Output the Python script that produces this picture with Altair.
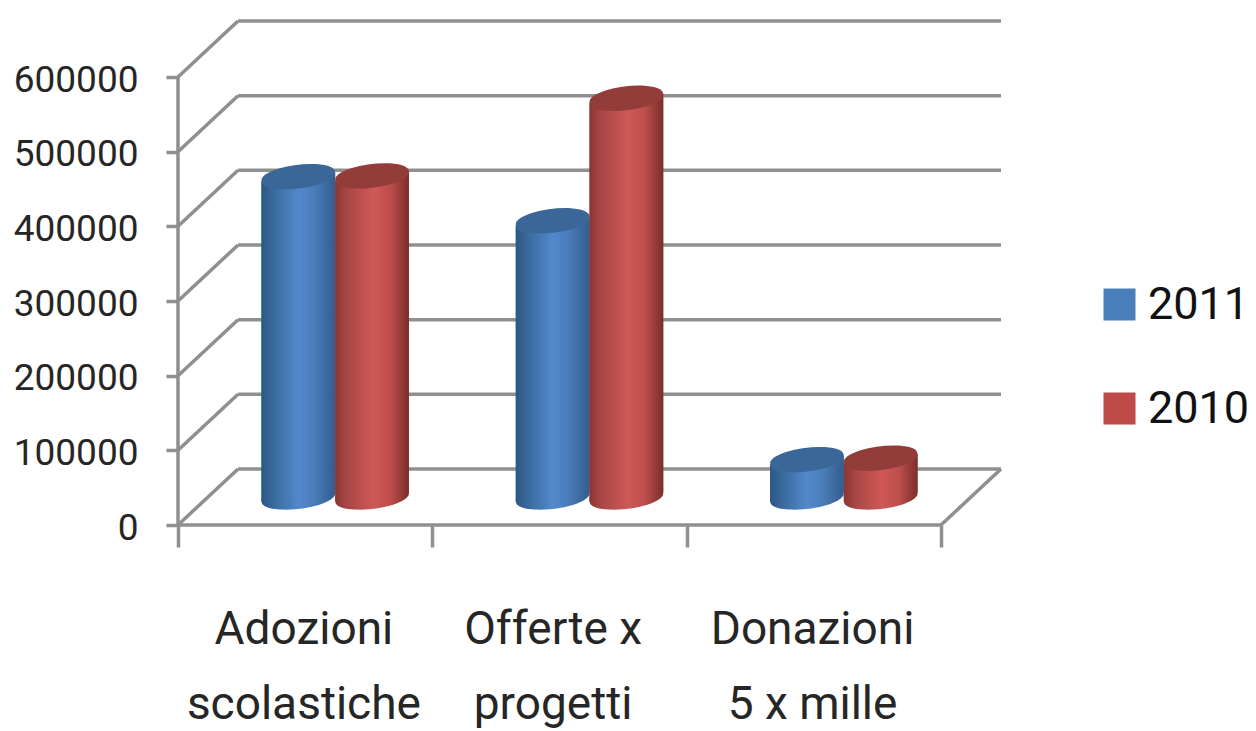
import altair as alt
import pandas as pd

categories = ["Adozioni\nscolastiche", "Offerte x\nprogetti", "Donazioni\n5 x mille"]
series = ["2011", "2010"]
values_2011 = [429000, 370000, 50000]
values_2010 = [430000, 534000, 52000]
ticks = [0, 100000, 200000, 300000, 400000, 500000, 600000]

# oblique projection of the 3D box, in data units
DEPTH_X = 0.236
DEPTH_Y = 75000
MID_Y = 37500
TILT = 6000
BAR_W = 0.29

FONT = "Roboto"
FS_AXIS = 37
FS_CAT = 46
FS_LEG = 45
TXT = "#262626"
LINE = "#8f8f8f"
LW = 3.5
X_DOM = [0, 3 + DEPTH_X]
Y_DOM = [0, 600000 + DEPTH_Y]

x_s = alt.Scale(domain=X_DOM, nice=False, zero=False)
y_s = alt.Scale(domain=Y_DOM, nice=False, zero=False)

X_AX = alt.Axis(values=[0, 1, 2, 3], labels=False, domain=False, grid=False,
                tickSize=22, tickColor=LINE, tickWidth=LW, title=None)
Y_AX = alt.Axis(values=ticks, domain=False, grid=False, tickSize=12, tickColor=LINE,
                tickWidth=LW, labelFont=FONT, labelFontSize=FS_AXIS, labelColor=TXT,
                labelPadding=28, labelOffset=3, labelFlush=False, labelOverlap=False,
                format="d", title=None)

def X(f):
    return alt.X(f, scale=x_s, axis=X_AX)

def Y(f):
    return alt.Y(f, scale=y_s, axis=Y_AX)

def grad(stops):
    return alt.Gradient(gradient="linear", x1=0, x2=1, y1=0, y2=0,
                        stops=[alt.GradientStop(offset=o, color=c) for o, c in stops])

GRAD = {
    "2011": grad([(0, "#2c5785"), (0.12, "#366596"), (0.5, "#5289cd"), (0.72, "#4a7cb8"), (1, "#325d8e")]),
    "2010": grad([(0, "#883533"), (0.14, "#a64644"), (0.52, "#d05856"), (0.75, "#bd4e4c"), (1, "#7a2e2c")]),
}
CAP = {"2011": "#3b6698", "2010": "#933d3a"}
ELLIPSE = "M-0.99,0.12 A1,0.3 -7 1 1 0.99,-0.12 A1,0.3 -7 1 1 -0.99,0.12 Z"
ELL_SIZE = 5476

walls = []
for t in ticks:
    walls.append(dict(x=DEPTH_X, x2=3 + DEPTH_X, y=t + DEPTH_Y, y2=t + DEPTH_Y))
    walls.append(dict(x=0, x2=DEPTH_X, y=t, y2=t + DEPTH_Y))
walls.append(dict(x=3, x2=3 + DEPTH_X, y=0, y2=DEPTH_Y))
walls.append(dict(x=0, x2=3, y=0, y2=0))
walls.append(dict(x=0, x2=0, y=0, y2=600000))
walls = pd.DataFrame(walls)

bars, centres = [], []
for s, vals, off in zip(series, [values_2011, values_2010], [-BAR_W / 2, BAR_W / 2]):
    for i, v in enumerate(vals):
        cx = i + 0.5 + DEPTH_X / 2 + off
        top, base = v + MID_Y, MID_Y
        centres.append(dict(series=s, bar=f"{s}-{i}", cx=cx, top=top, base=base))
        bars.append(dict(series=s, bar=f"{s}-{i}", x=cx - BAR_W / 2, top=top - TILT, base=base - TILT))
        bars.append(dict(series=s, bar=f"{s}-{i}", x=cx + BAR_W / 2, top=top + TILT, base=base + TILT))
bars = pd.DataFrame(bars)
centres = pd.DataFrame(centres)

wall_layer = alt.Chart(walls).mark_rule(color=LINE, strokeWidth=LW).encode(
    x=X("x:Q"), x2="x2:Q", y=Y("y:Q"), y2="y2:Q",
)

legend_layer = alt.Chart(bars).mark_area(opacity=1).encode(
    x=X("x:Q"), y=Y("top:Q"), y2="base:Q",
    detail="bar:N",
    color=alt.Color("series:N",
                    scale=alt.Scale(domain=series, range=["#4a7ebb", "#be4b48"]),
                    legend=alt.Legend(orient="none", legendX=919, legendY=261, title=None,
                                      symbolType="square", symbolSize=1024, symbolStrokeWidth=0,
                                      labelFont=FONT, labelFontSize=FS_LEG, labelColor="#111111",
                                      labelOffset=6, rowPadding=58, padding=0, labelLimit=300)),
)

layers = [wall_layer, legend_layer]
for s in series:
    b = bars[bars.series == s]
    c = centres[centres.series == s]
    layers.append(alt.Chart(c).mark_point(filled=True, fill=GRAD[s], opacity=1, strokeWidth=0,
                                          shape=ELLIPSE, size=ELL_SIZE).encode(
        x=X("cx:Q"), y=Y("base:Q")))
    layers.append(alt.Chart(b).mark_area(fill=GRAD[s], opacity=1).encode(
        x=X("x:Q"), y=Y("top:Q"), y2="base:Q", detail="bar:N"))
    layers.append(alt.Chart(c).mark_point(filled=True, fill=CAP[s], opacity=1, strokeWidth=0,
                                          shape=ELLIPSE, size=ELL_SIZE).encode(
        x=X("cx:Q"), y=Y("top:Q")))

labels = pd.DataFrame({"label": categories, "x": [0.495, 1.475, 2.495], "y": [0, 0, 0]})
layers.append(alt.Chart(labels).mark_text(
    font=FONT, fontSize=FS_CAT, color=TXT, lineBreak="\n", lineHeight=75,
    align="center", baseline="alphabetic", dy=119).encode(
    x=X("x:Q"), y=Y("y:Q"), text="label:N"))

chart = alt.layer(*layers).properties(
    width=823, height=504,
    padding={"left": 170, "top": 13, "right": 247, "bottom": 206},
    autosize=alt.AutoSizeParams(type="none"),
).configure_view(stroke=None)

chart.save("out.html", embed_options={"renderer": "svg", "actions": False})
